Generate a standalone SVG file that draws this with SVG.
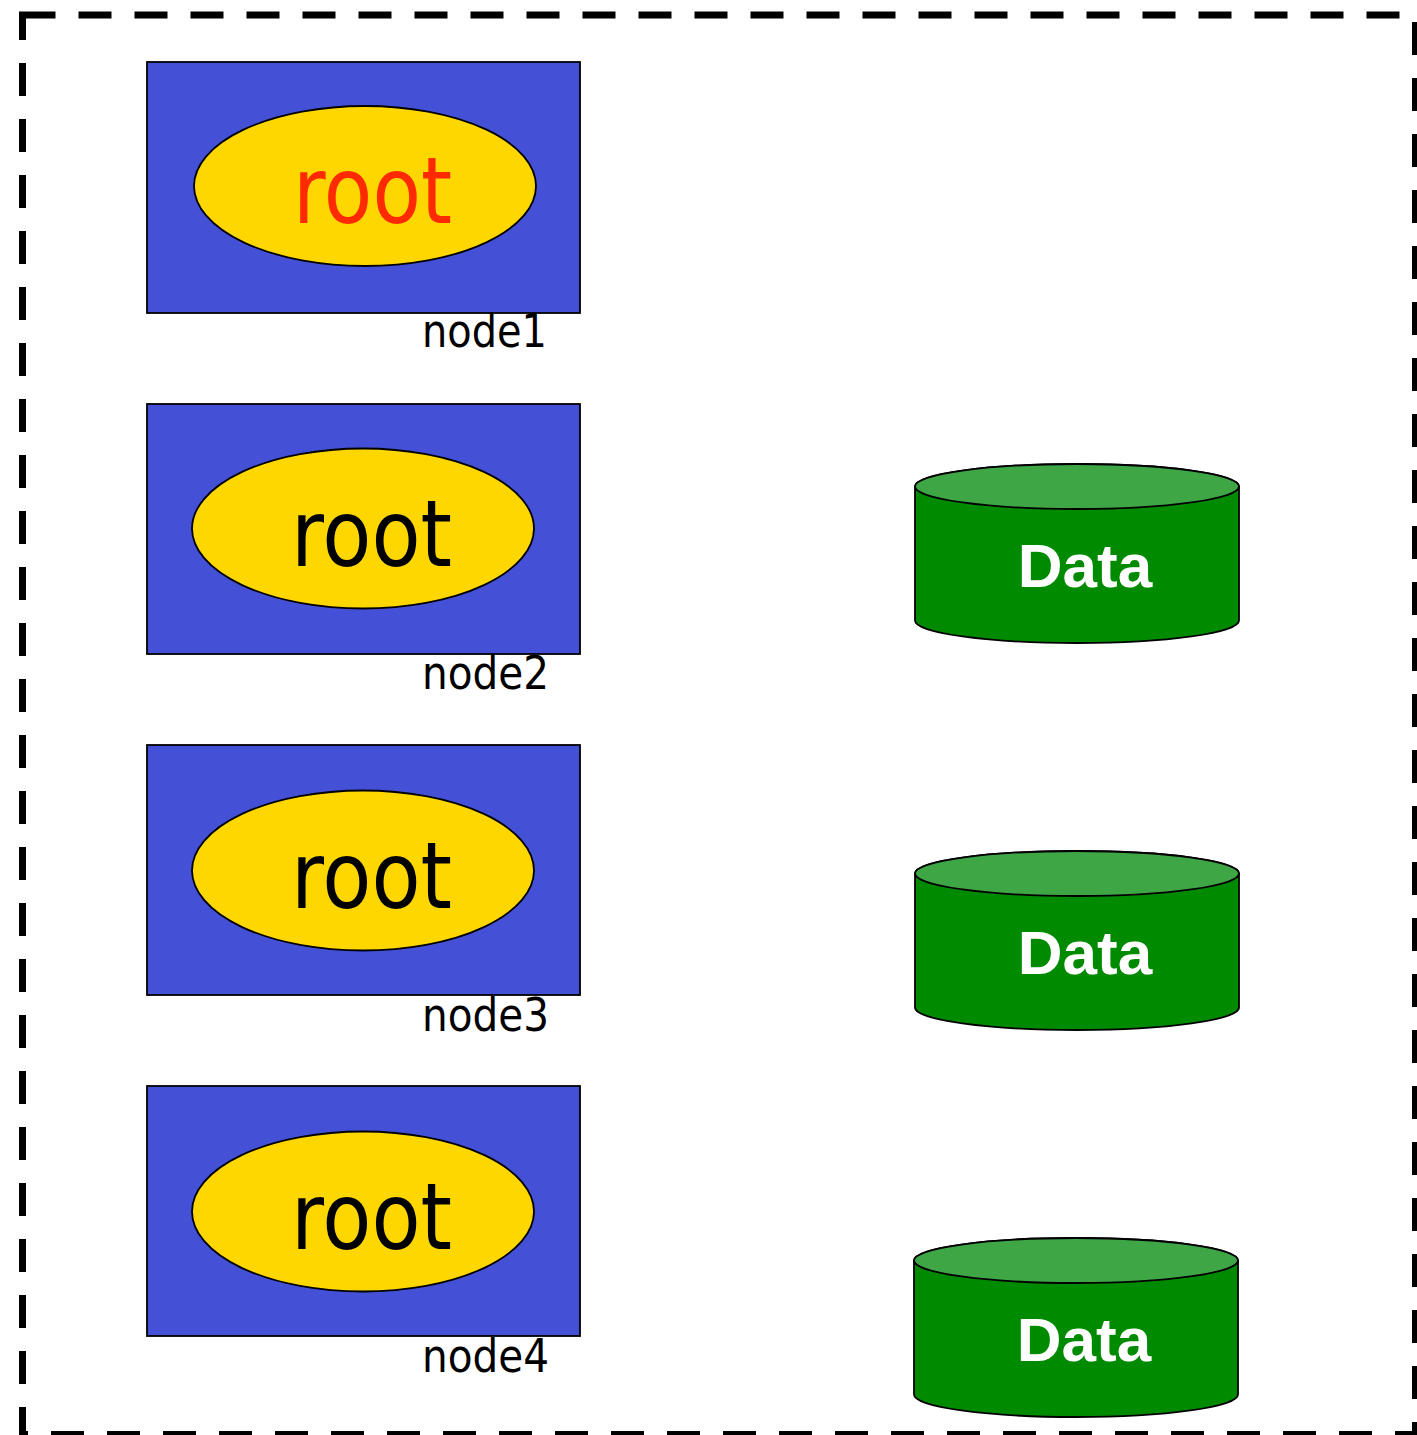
<svg xmlns="http://www.w3.org/2000/svg" width="1417" height="1435" viewBox="0 0 1417 1435">
  <style>
    .frame { fill: none; stroke: #000; stroke-width: 7; stroke-dasharray: 33 23; }
    .box { fill: #4450D6; stroke: #000; stroke-width: 1.8; }
    .oval { fill: #FFD700; stroke: #000; stroke-width: 1.8; }
    .root { font-family: "DejaVu Sans", sans-serif; font-size: 92px; fill: #000; }
    .root.hot { fill: #FF2A00; }
    .name { font-family: "DejaVu Sans", sans-serif; font-size: 46px; fill: #000; }
    .body { fill: #008A00; stroke: #000; stroke-width: 1.8; }
    .lid { fill: #3FA646; stroke: #000; stroke-width: 1.8; }
    .data { font-family: "Liberation Sans", Arial, sans-serif; font-weight: bold; font-size: 62px; fill: #fff; }
  </style>

  <!-- outer dashed boundary -->
  <rect class="frame" x="22.5" y="15" width="1393" height="1419.5"/>

  <!-- host nodes -->
  <g id="node1">
    <rect class="box" x="147" y="62" width="433" height="251"/>
    <ellipse class="oval" cx="365" cy="186" rx="171" ry="80"/>
    <text class="root hot" x="293" y="223" textLength="159" lengthAdjust="spacingAndGlyphs">root</text>
    <text class="name" x="422" y="347" textLength="125" lengthAdjust="spacingAndGlyphs">node1</text>
  </g>
  <g id="node2">
    <rect class="box" x="147" y="404" width="433" height="250"/>
    <ellipse class="oval" cx="363" cy="528.5" rx="171" ry="80"/>
    <text class="root" x="291" y="565.5" textLength="161" lengthAdjust="spacingAndGlyphs">root</text>
    <text class="name" x="422" y="689" textLength="127" lengthAdjust="spacingAndGlyphs">node2</text>
  </g>
  <g id="node3">
    <rect class="box" x="147" y="745" width="433" height="250"/>
    <ellipse class="oval" cx="363" cy="870.5" rx="171" ry="80"/>
    <text class="root" x="291" y="907.5" textLength="161" lengthAdjust="spacingAndGlyphs">root</text>
    <text class="name" x="422" y="1031" textLength="127" lengthAdjust="spacingAndGlyphs">node3</text>
  </g>
  <g id="node4">
    <rect class="box" x="147" y="1086" width="433" height="250"/>
    <ellipse class="oval" cx="363" cy="1211.5" rx="171" ry="80"/>
    <text class="root" x="291" y="1248.5" textLength="161" lengthAdjust="spacingAndGlyphs">root</text>
    <text class="name" x="422" y="1372" textLength="127" lengthAdjust="spacingAndGlyphs">node4</text>
  </g>

  <!-- data stores -->
  <g id="data1">
    <path class="body" d="M915,486.5 V620.5 A162,22.5 0 0 0 1239,620.5 V486.5 A162,22.5 0 0 0 915,486.5 Z"/>
    <ellipse class="lid" cx="1077" cy="486.5" rx="162" ry="22.5"/>
    <text class="data" x="1085" y="587" text-anchor="middle">Data</text>
  </g>
  <g id="data2">
    <path class="body" d="M915,873.5 V1007.5 A162,22.5 0 0 0 1239,1007.5 V873.5 A162,22.5 0 0 0 915,873.5 Z"/>
    <ellipse class="lid" cx="1077" cy="873.5" rx="162" ry="22.5"/>
    <text class="data" x="1085" y="974" text-anchor="middle">Data</text>
  </g>
  <g id="data3">
    <path class="body" d="M914,1260.5 V1394.5 A162,22.5 0 0 0 1238,1394.5 V1260.5 A162,22.5 0 0 0 914,1260.5 Z"/>
    <ellipse class="lid" cx="1076" cy="1260.5" rx="162" ry="22.5"/>
    <text class="data" x="1084" y="1361" text-anchor="middle">Data</text>
  </g>

  <!-- no connectors in this view -->
  <g id="connectors"/>
</svg>
